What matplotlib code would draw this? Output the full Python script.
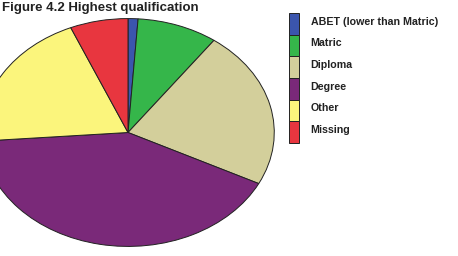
import matplotlib.pyplot as plt
from matplotlib.transforms import ScaledTranslation

plt.rcParams['font.family'] = ['Liberation Sans', 'DejaVu Sans']

labels = ["ABET (lower than Matric)", "Matric", "Diploma", "Degree", "Other", "Missing"]
shares = [1.1, 8.9, 22.4, 41.4, 19.8, 6.4]
colors = ["#3b55ad", "#35b64a", "#d3cf9b", "#7a2979", "#fbf57c", "#e8363f"]

W, H = 458, 256
fig = plt.figure(figsize=(W / 100, H / 100), dpi=100)

# pie axes: ellipse spans x -19..275 px, y 18..247 px from top
ax = fig.add_axes([-19 / W, 9 / H, 294 / W, 229 / H])
wedges, _ = ax.pie(
    shares,
    colors=colors,
    startangle=90,
    counterclock=False,
    wedgeprops=dict(edgecolor="#222222", linewidth=0.7),
)
ax.set_aspect("auto")
ax.set_xlim(-1.005, 1.005)
ax.set_ylim(-1.005, 1.005)
ax.axis("off")

fig.text(2 / W, 1 - 8 / H, "Figure 4.2 Highest qualification",
         fontsize=9.5, fontweight="bold", ha="left", va="center", color="#222222")

fs = 7.7
leg = fig.legend(
    wedges, labels,
    loc="upper left",
    bbox_to_anchor=(289 / W, 1 - 13 / H),
    frameon=False,
    prop=dict(weight="bold", size=fs),
    handlelength=0.93,
    handleheight=2.74,
    labelspacing=0,
    handletextpad=1.1,
    borderpad=0,
    borderaxespad=0,
)
# labels sit a little above the middle of their boxes
shift = ScaledTranslation(0, 2.5 / 100, fig.dpi_scale_trans)
for t in leg.get_texts():
    t.set_color("#222222")
    t.set_transform(t.get_transform() + shift)

fig.savefig("out.png", dpi=100)
